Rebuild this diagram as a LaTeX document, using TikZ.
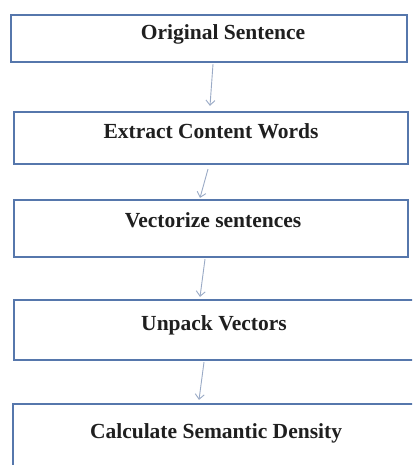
\documentclass[tikz,border=0pt]{standalone}
\usepackage{fontspec}
\setmainfont{Liberation Serif}
\usetikzlibrary{arrows.meta}
\definecolor{boxblue}{HTML}{5677AC}
\definecolor{arrowgray}{HTML}{9AAAC6}
\tikzset{
  stepbox/.style={draw=boxblue, line width=2.2pt, fill=white, rectangle, inner sep=0pt},
  steptext/.style={font=\fontsize{21.5}{25}\selectfont\bfseries, text=black!88, inner sep=0pt},
  flow/.style={draw=arrowgray, line width=0.9pt, -{Straight Barb[length=5pt,width=9pt]}}
}
\begin{document}
\begin{tikzpicture}[x=1pt,y=-1pt]
\useasboundingbox (0,0) rectangle (412,465);
\fill[white] (0,0) rectangle (412,465);
\clip (0,0) rectangle (412,465);
% boxes
\node[stepbox, minimum width=396pt, minimum height=47pt] (b1) at (209,38.5) {};
\node[stepbox, minimum width=394pt, minimum height=52pt] (b2) at (211,138) {};
\node[stepbox, minimum width=394pt, minimum height=57pt] (b3) at (211,228.5) {};
\node[stepbox, minimum width=401pt, minimum height=60pt] (b4) at (214.5,330) {};
\node[stepbox, minimum width=403pt, minimum height=71pt] (b5) at (214.5,439.5) {};
% texts
\node[steptext] (t1) at (223,34) {Original Sentence};
\node[steptext] (t2) at (211,131) {Extract Content Words};
\node[steptext] (t3) at (213,220) {Vectorize sentences};
\node[steptext] (t4) at (214,325) {Unpack Vectors};
\node[steptext] (t5) at (216,433) {Calculate Semantic Density};
% arrows
\draw[flow] ([xshift=4pt,yshift=-1pt]b1.south) -- ([xshift=-1pt,yshift=5pt]b2.north);
\draw[flow] ([xshift=-3pt,yshift=-4pt]b2.south) -- ([xshift=-11pt,yshift=1pt]b3.north);
\draw[flow] ([xshift=-6pt,yshift=-1pt]b3.south) -- ([xshift=-14.5pt,yshift=2pt]b4.north);
\draw[flow] ([xshift=-10.5pt,yshift=-1pt]b4.south) -- ([xshift=-15.5pt,yshift=3pt]b5.north);
\end{tikzpicture}
\end{document}
